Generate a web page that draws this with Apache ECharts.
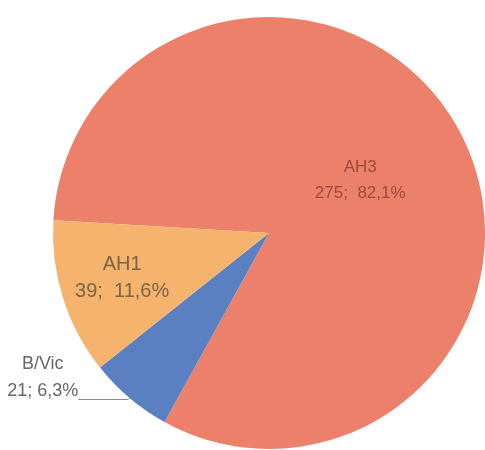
<!DOCTYPE html>
<html>
<head>
<meta charset="utf-8">
<script src="https://cdn.jsdelivr.net/npm/echarts@6/dist/echarts.min.js"></script>
<style>
html,body{margin:0;padding:0;background:#fff;}
#main{width:485px;height:450px;}
</style>
</head>
<body>
<div id="main"></div>
<script>
// Data (clockwise order starting at the left edge)
var categories = ['AH3', 'B/Vic', 'AH1'];
var values = [275, 21, 39];
var percents = ['82,1%', '6,3%', '11,6%'];
var colors = ['#EC806A', '#5B80C1', '#F5B36E'];

var chart = echarts.init(document.getElementById('main'), null, {renderer: 'canvas'});

var FONT = 'Liberation Sans, Arial, sans-serif';

var labels = [
  {
    show: true, position: 'inside', fontFamily: FONT,
    fontSize: 17, lineHeight: 26, color: '#9A4B3C',
    formatter: categories[0] + '\n' + values[0] + ';  ' + percents[0]
  },
  {
    show: true, position: 'outside', fontFamily: FONT,
    distanceToLabelLine: 0,
    formatter: '{t|' + categories[1] + '}\n{t|' + values[1] + '; ' + percents[1] + '}\n{s| }',
    rich: {
      t: {fontFamily: FONT, fontSize: 18, lineHeight: 27, color: '#666666', align: 'center'},
      s: {fontFamily: FONT, fontSize: 10, lineHeight: 44}
    }
  },
  {
    show: true, position: 'inside', fontFamily: FONT,
    fontSize: 20, lineHeight: 27, color: '#7D6446',
    formatter: categories[2] + '\n' + values[2] + ';  ' + percents[2]
  }
];

var data = categories.map(function (c, i) {
  return {
    name: c,
    value: values[i],
    itemStyle: {color: colors[i]},
    label: labels[i],
    labelLine: {
      show: labels[i].position === 'outside',
      length: 2,
      length2: 50,
      smooth: false,
      lineStyle: {color: '#8C8C8C', width: 1}
    }
  };
});

chart.setOption({
  animation: false,
  backgroundColor: '#ffffff',
  series: [{
    type: 'pie',
    center: [269, 233],
    radius: 216,
    startAngle: 176.6,
    clockwise: true,
    avoidLabelOverlap: false,
    itemStyle: {borderWidth: 0},
    emphasis: {disabled: true},
    data: data,
    labelLayout: function (params) {
      if (params.dataIndex === 0) return {dx: -6, dy: 1};
      if (params.dataIndex === 2) return {dx: -41, dy: 12};
      return {};
    }
  }]
});
</script>
</body>
</html>
